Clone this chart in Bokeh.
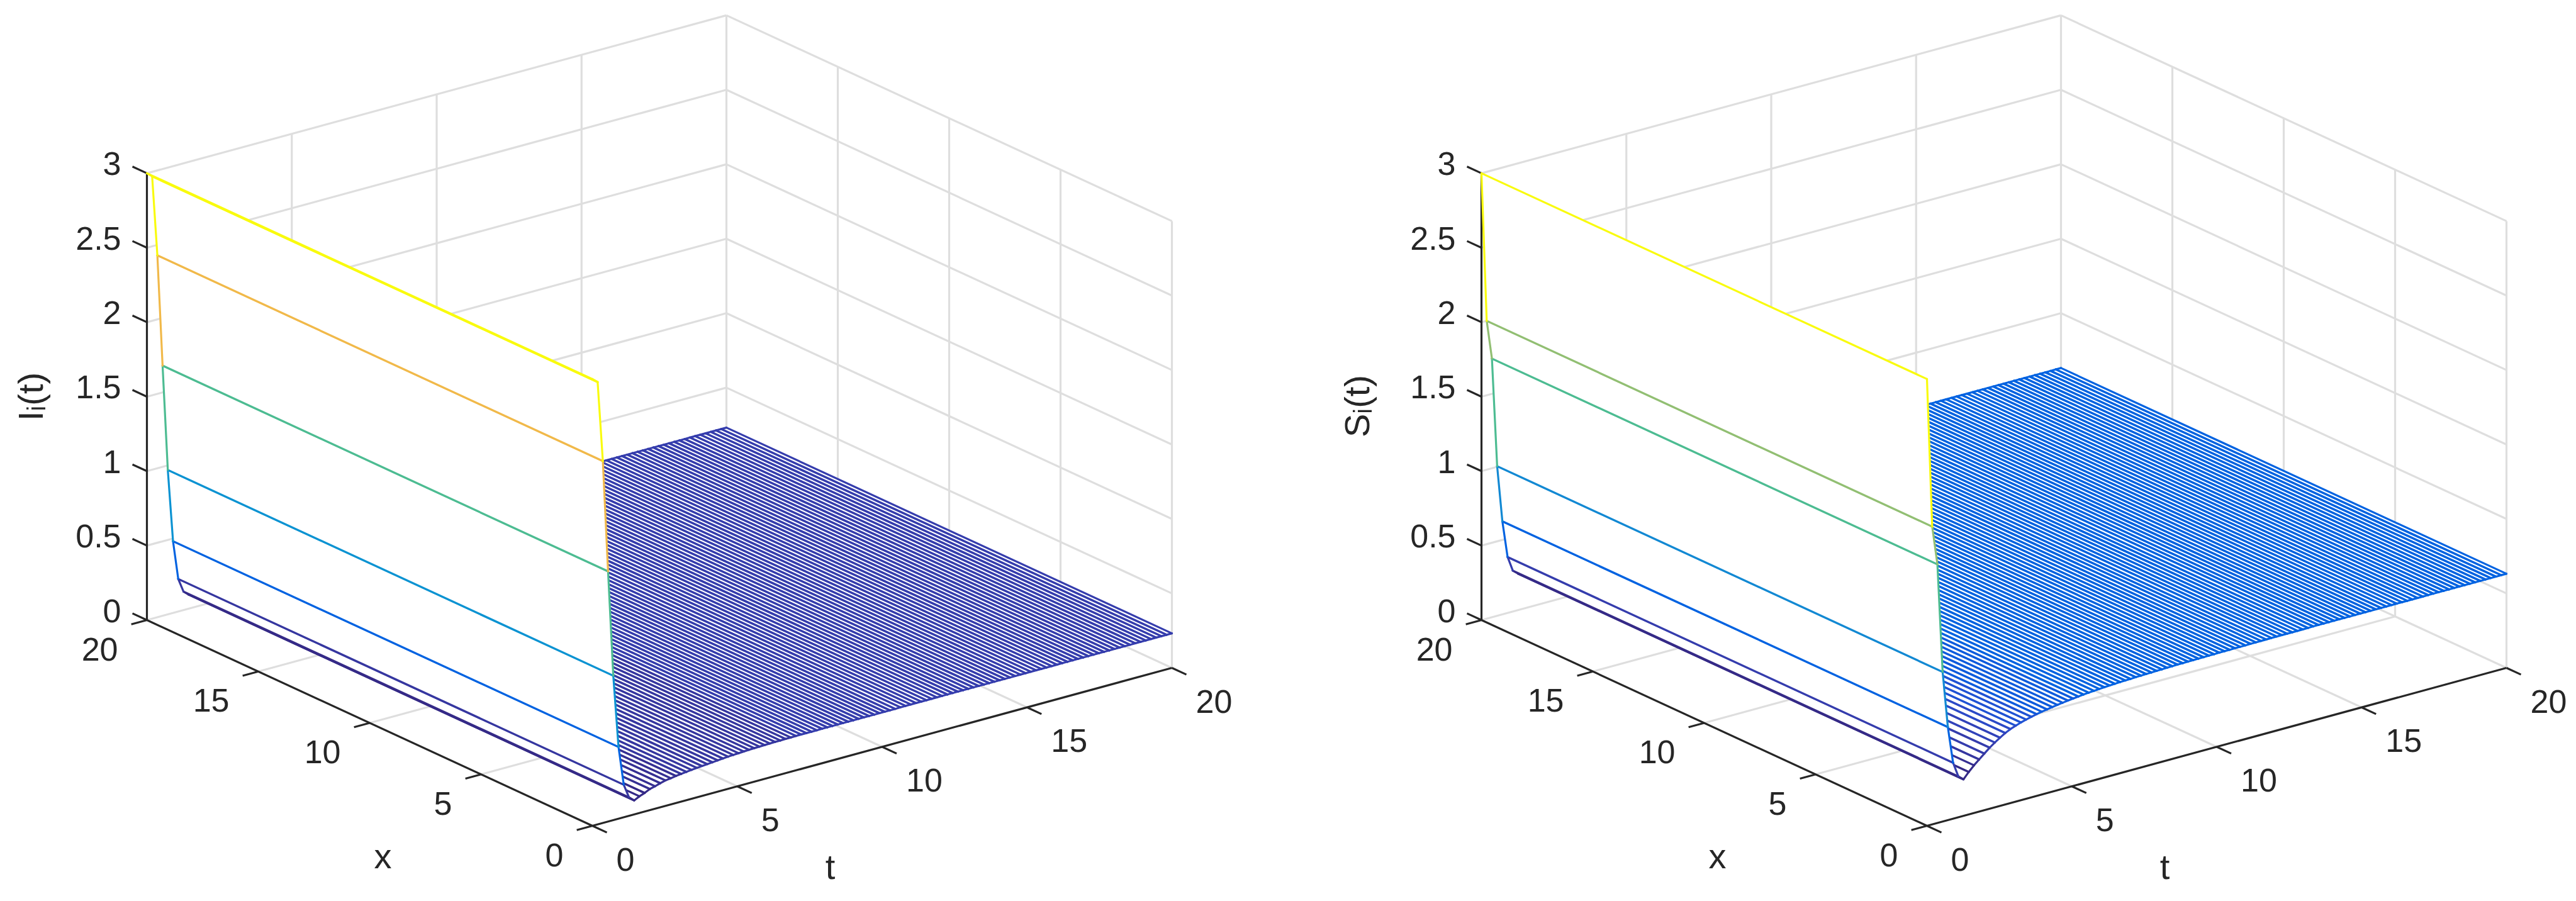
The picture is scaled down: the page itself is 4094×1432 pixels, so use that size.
from bokeh.plotting import figure
from bokeh.models import ColumnDataSource
from bokeh.layouts import row
from bokeh.core.properties import value
from bokeh.embed import file_html
from bokeh.resources import INLINE
import numpy as np

# ---------- data ----------
I_values = [3.00, 2.97, 2.43, 1.68, 0.97, 0.482, 0.219, 0.125, 0.094,
            0.112, 0.125, 0.142, 0.151, 0.162, 0.171, 0.176, 0.182, 0.186, 0.190,
            0.194, 0.198, 0.201, 0.204, 0.207, 0.210, 0.213, 0.216, 0.218, 0.220,
            0.222, 0.224, 0.225, 0.226, 0.227, 0.228, 0.229, 0.229, 0.230, 0.230,
            0.231, 0.231, 0.231, 0.231, 0.231, 0.231, 0.231, 0.231, 0.231, 0.231,
            0.231, 0.231, 0.231, 0.231, 0.231, 0.231, 0.231, 0.231, 0.231, 0.231,
            0.232, 0.232, 0.232, 0.232, 0.232, 0.232, 0.232, 0.232, 0.232, 0.232,
            0.232, 0.232, 0.232, 0.232, 0.232, 0.232, 0.232, 0.232, 0.232, 0.232,
            0.232, 0.232, 0.232, 0.232, 0.232, 0.232, 0.232, 0.232, 0.232, 0.232,
            0.232, 0.232, 0.232, 0.232, 0.232, 0.232, 0.232, 0.232, 0.232, 0.232,
            0.232, 0.232, 0.232, 0.232, 0.232, 0.232, 0.232, 0.232, 0.232, 0.232,
            0.232, 0.232, 0.232]
S_values = [3.00, 2.00, 1.737, 1.005, 0.625, 0.376, 0.275, 0.245, 0.285,
            0.320, 0.350, 0.380, 0.410, 0.435, 0.458, 0.480, 0.497, 0.510, 0.522,
            0.532, 0.541, 0.549, 0.556, 0.562, 0.568, 0.573, 0.578, 0.583, 0.587,
            0.591, 0.595, 0.598, 0.601, 0.604, 0.606, 0.608, 0.610, 0.612, 0.613,
            0.614, 0.616, 0.617, 0.618, 0.619, 0.620, 0.621, 0.622, 0.623, 0.624,
            0.624, 0.625, 0.625, 0.626, 0.626, 0.627, 0.627, 0.628, 0.628, 0.628,
            0.629, 0.629, 0.629, 0.630, 0.630, 0.630, 0.630, 0.631, 0.631, 0.631,
            0.631, 0.631, 0.631, 0.631, 0.631, 0.632, 0.632, 0.632, 0.632, 0.632,
            0.632, 0.632, 0.632, 0.632, 0.632, 0.632, 0.632, 0.632, 0.632, 0.632,
            0.632, 0.632, 0.632, 0.632, 0.632, 0.632, 0.632, 0.632, 0.632, 0.632,
            0.632, 0.632, 0.632, 0.632, 0.632, 0.632, 0.632, 0.632, 0.632, 0.632,
            0.632, 0.632, 0.632]
t_ticks = [0, 5, 10, 15, 20]
x_ticks = [0, 5, 10, 15, 20]
z_ticks = [0, 0.5, 1, 1.5, 2, 2.5, 3]
t_tick_labels = ["0", "5", "10", "15", "20"]
x_tick_labels = ["0", "5", "10", "15", "20"]
z_tick_labels = ["0", "0.5", "1", "1.5", "2", "2.5", "3"]

PARULA = [
 (0.2081,0.1663,0.5292),(0.2116,0.1898,0.5777),(0.2123,0.2138,0.6270),(0.2081,0.2386,0.6771),
 (0.1959,0.2645,0.7279),(0.1707,0.2919,0.7792),(0.1253,0.3242,0.8303),(0.0591,0.3598,0.8683),
 (0.0117,0.3875,0.8820),(0.0060,0.4086,0.8828),(0.0165,0.4266,0.8786),(0.0329,0.4430,0.8720),
 (0.0498,0.4586,0.8641),(0.0629,0.4737,0.8554),(0.0723,0.4887,0.8467),(0.0779,0.5040,0.8384),
 (0.0793,0.5200,0.8312),(0.0749,0.5375,0.8263),(0.0641,0.5570,0.8240),(0.0488,0.5772,0.8228),
 (0.0343,0.5966,0.8199),(0.0265,0.6137,0.8135),(0.0239,0.6287,0.8038),(0.0231,0.6418,0.7913),
 (0.0228,0.6535,0.7768),(0.0267,0.6642,0.7607),(0.0384,0.6743,0.7436),(0.0590,0.6838,0.7254),
 (0.0843,0.6928,0.7062),(0.1133,0.7015,0.6859),(0.1453,0.7098,0.6646),(0.1801,0.7177,0.6424),
 (0.2178,0.7250,0.6193),(0.2586,0.7317,0.5954),(0.3022,0.7376,0.5712),(0.3482,0.7424,0.5473),
 (0.3953,0.7459,0.5244),(0.4420,0.7481,0.5033),(0.4871,0.7491,0.4840),(0.5300,0.7491,0.4661),
 (0.5709,0.7485,0.4494),(0.6099,0.7473,0.4337),(0.6473,0.7456,0.4188),(0.6834,0.7435,0.4044),
 (0.7184,0.7411,0.3905),(0.7525,0.7384,0.3768),(0.7858,0.7356,0.3633),(0.8185,0.7327,0.3498),
 (0.8507,0.7299,0.3360),(0.8824,0.7274,0.3217),(0.9139,0.7258,0.3063),(0.9450,0.7261,0.2886),
 (0.9739,0.7314,0.2666),(0.9938,0.7455,0.2403),(0.9990,0.7653,0.2164),(0.9955,0.7861,0.1967),
 (0.9880,0.8066,0.1794),(0.9789,0.8271,0.1633),(0.9697,0.8481,0.1475),(0.9626,0.8705,0.1309),
 (0.9589,0.8949,0.1132),(0.9598,0.9218,0.0948),(0.9661,0.9514,0.0755),(0.9763,0.9831,0.0538)]
PALETTE = ["#%02x%02x%02x" % tuple(int(round(c * 255)) for c in rgb) for rgb in PARULA]

# ---------- style ----------
GRID = "#dedede"
INK = "#262626"
FONT = value("Liberation Sans")
TICK_PX = value("52px")
LABEL_PX = value("56px")
GRID_W, AXIS_W, MESH_W = 3.2, 3.2, 3.2

# orthographic view: where the axes box lands, in picture pixels for the left panel
ORIGIN = (941.0, 1312.0)       # x=0, t=0, z=0
X_SPAN = (-708.0, -327.0)      # x from 0 to 20
T_SPAN = (921.0, -251.0)       # t from 0 to 20
Z_UNIT = -236.7                # per unit of z
PAGE_W, PAGE_H = 4078, 1416
PANEL_W = PAGE_W // 2
PANEL_SHIFT = 2121.0


def make_panel(z_values, ylabel, x_left, x_right, shift, ylabel_xy):
    def px(x, t, z):
        a, b = np.asarray(x, float) / 20.0, np.asarray(t, float) / 20.0
        return ORIGIN[0] + shift + a * X_SPAN[0] + b * T_SPAN[0]

    def py(x, t, z):
        a, b = np.asarray(x, float) / 20.0, np.asarray(t, float) / 20.0
        return ORIGIN[1] + a * X_SPAN[1] + b * T_SPAN[1] + np.asarray(z, float) * Z_UNIT

    def seg(p0, p1):
        return ([float(px(*p0)), float(px(*p1))], [float(py(*p0)), float(py(*p1))])

    p = figure(width=PANEL_W, height=PAGE_H, x_range=(x_left, x_right), y_range=(PAGE_H, 0),
               output_backend="svg", toolbar_location=None, min_border=0,
               background_fill_color="white", border_fill_color="white")
    p.xaxis.visible = False
    p.yaxis.visible = False
    p.grid.visible = False
    p.outline_line_color = None

    # walls and floor grid
    grid = []
    for t in t_ticks[1:]:
        grid.append(seg((0, t, 0), (20, t, 0)))              # floor
        grid.append(seg((20, t, 0), (20, t, 3)))             # wall x=20
    for x in x_ticks[1:]:
        grid.append(seg((x, 0, 0), (x, 20, 0)))              # floor
    for x in x_ticks[:-1]:
        grid.append(seg((x, 20, 0), (x, 20, 3)))             # wall t=20
    for z in z_ticks[1:]:
        grid.append(seg((20, 0, z), (20, 20, z)))
        grid.append(seg((20, 20, z), (0, 20, z)))
    p.multi_line([g[0] for g in grid], [g[1] for g in grid], line_color=GRID, line_width=GRID_W)

    # axis lines and ticks
    axes = [seg((0, 0, 0), (20, 0, 0)), seg((0, 0, 0), (0, 20, 0)), seg((20, 0, 0), (20, 0, 3))]
    for z in z_ticks:
        axes.append(seg((20, 0, z), (20.65, 0, z)))
    for t in t_ticks:
        axes.append(seg((0, t, 0), (-0.65, t, 0)))
    for x in x_ticks:
        axes.append(seg((x, 0, 0), (x, -0.54, 0)))
    p.multi_line([a[0] for a in axes], [a[1] for a in axes], line_color=INK, line_width=AXIS_W)

    # surface: white faces with coloured edges, painted from back to front
    z_arr = np.asarray(z_values, float)
    t_arr = np.linspace(0, 20, len(z_arr))
    lo, hi = z_arr.min(), z_arr.max()
    idx = np.minimum(63, np.floor((z_arr - lo) / (hi - lo) * 64).astype(int))
    colors = [PALETTE[i] for i in idx]

    def quad(k):
        c = [(0, t_arr[k], z_arr[k]), (20, t_arr[k], z_arr[k]),
             (20, t_arr[k + 1], z_arr[k + 1]), (0, t_arr[k + 1], z_arr[k + 1])]
        return ([float(px(*q)) for q in c], [float(py(*q)) for q in c])

    def edges(k):
        out = [(seg((0, t_arr[k + 1], z_arr[k + 1]), (20, t_arr[k + 1], z_arr[k + 1])), colors[k + 1]),
               (seg((0, t_arr[k], z_arr[k]), (0, t_arr[k + 1], z_arr[k + 1])), colors[k]),
               (seg((20, t_arr[k], z_arr[k]), (20, t_arr[k + 1], z_arr[k + 1])), colors[k]),
               (seg((0, t_arr[k], z_arr[k]), (20, t_arr[k], z_arr[k])), colors[k])]
        return out

    def paint(ks):
        quads = [quad(k) for k in ks]
        p.patches([q[0] for q in quads], [q[1] for q in quads], fill_color="white", line_color=None)
        lines = [e for k in ks for e in edges(k)]
        p.multi_line([l[0][0] for l in lines], [l[0][1] for l in lines],
                     line_color=[l[1] for l in lines], line_width=MESH_W, line_join="round", line_cap="round")

    split = 9
    paint(list(range(len(z_arr) - 2, split - 1, -1)))
    for k in range(split - 1, -1, -1):
        paint([k])

    # tick labels and axis labels
    def texts(xs, ys, labels, size, align="center", angle=0.0):
        src = ColumnDataSource(dict(x=xs, y=ys, text=labels))
        p.text("x", "y", "text", source=src, text_font=FONT, text_font_size=size, text_color=INK,
               text_align=align, text_baseline="middle", angle=angle)

    texts([float(px(20, 0, z)) - 41 for z in z_ticks], [float(py(20, 0, z)) - 15 for z in z_ticks],
          z_tick_labels, TICK_PX, align="right")
    texts([float(px(x, 0, 0)) - 46 for x in x_ticks], [float(py(x, 0, 0)) + 46 for x in x_ticks],
          x_tick_labels, TICK_PX, align="right")
    texts([float(px(0, t, 0)) + 38 for t in t_ticks], [float(py(0, t, 0)) + 53 for t in t_ticks],
          t_tick_labels, TICK_PX, align="left")
    texts([608.0 + shift], [1360.0], ["x"], LABEL_PX)
    texts([1319.0 + shift], [1377.0], ["t"], LABEL_PX)
    texts([ylabel_xy[0]], [ylabel_xy[1]], [ylabel], LABEL_PX, angle=np.pi / 2)
    return p


assert len(I_values) == 112 and len(S_values) == 112

left = make_panel(I_values, "I\u1d62(t)", 0, PANEL_W, 0.0, (48.0, 630.0))
right = make_panel(S_values, "S\u1d62(t)", PANEL_W, 2 * PANEL_W, PANEL_SHIFT, (2156.0, 645.0))

layout = row(left, right)
open("out.html", "w").write(file_html(layout, INLINE))
